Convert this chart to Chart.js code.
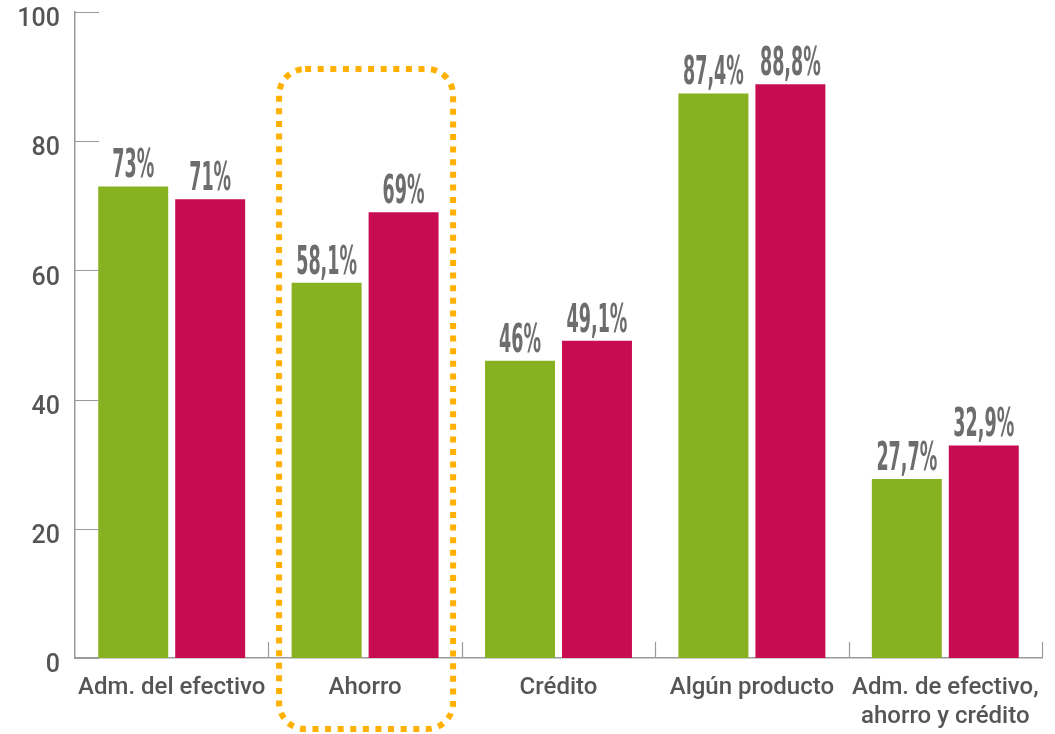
<!DOCTYPE html>
<html>
<head>
<meta charset="utf-8">
<script src="https://cdn.jsdelivr.net/npm/chart.js@4.4.1/dist/chart.umd.min.js"></script>
<style>
  html, body { margin: 0; padding: 0; background: #fff; }
  #wrap { width: 1055px; height: 734px; }
</style>
</head>
<body>
<div id="wrap"><canvas id="chart"></canvas></div>
<script>
const categories = [
    'Adm. del efectivo',
    'Ahorro',
    'Crédito',
    'Algún producto',
    ['Adm. de efectivo,', 'ahorro y crédito']
];
const greenValues = [73, 58.1, 46, 87.4, 27.7];
const redValues = [71, 69, 49.1, 88.8, 32.9];
const yTicks = [0, 20, 40, 60, 80, 100];
const highlightIndex = 1;

const GREEN = '#87b120';
const RED = '#c80c52';
const AXIS = '#9a9a9a';
const TEXT = '#555555';

const fmt = v => String(v).replace('.', ',') + '%';

// ticks on both axes point into the plot area
const innerTicks = {
    id: 'innerTicks',
    afterDraw(chart) {
        const { ctx, chartArea, scales } = chart;
        ctx.save();
        ctx.strokeStyle = AXIS;
        ctx.lineWidth = 1.2;
        ctx.beginPath();
        yTicks.forEach(t => {
            const py = Math.round(scales.y.getPixelForValue(t)) + 0.5;
            ctx.moveTo(chartArea.left, py);
            ctx.lineTo(chartArea.left + 24, py);
        });
        const step = (chartArea.right - chartArea.left) / categories.length;
        for (let i = 1; i <= categories.length; i++) {
            const px = Math.round(chartArea.left + i * step) + 0.5;
            ctx.moveTo(px, chartArea.bottom);
            ctx.lineTo(px, chartArea.bottom - 16);
        }
        ctx.stroke();
        ctx.restore();
    }
};

const valueLabels = {
    id: 'valueLabels',
    afterDatasetsDraw(chart) {
        const { ctx } = chart;
        ctx.save();
        ctx.fillStyle = '#6d6d6d';
        ctx.font = 'bold 39px "DejaVu Sans Condensed", "DejaVu Sans", sans-serif';
        ctx.textAlign = 'center';
        ctx.textBaseline = 'alphabetic';
        chart.data.datasets.forEach((ds, di) => {
            chart.getDatasetMeta(di).data.forEach((bar, i) => {
                ctx.save();
                ctx.translate(bar.x, bar.y - 9);
                ctx.scale(0.5, 1);
                ctx.fillText(fmt(ds.data[i]), 0, 0);
                ctx.restore();
            });
        });
        ctx.restore();
    }
};

const highlightBox = {
    id: 'highlightBox',
    afterDraw(chart) {
        const { ctx, chartArea, scales } = chart;
        const cx = scales.x.getPixelForValue(highlightIndex);
        const left = cx - 86;
        const right = cx + 88;
        const top = chartArea.top + 57;
        const bottom = chartArea.bottom + 71;
        ctx.save();
        ctx.strokeStyle = '#ffb000';
        ctx.lineWidth = 6;
        ctx.setLineDash([6, 6.6]);
        ctx.beginPath();
        ctx.roundRect(left, top, right - left, bottom - top, 26);
        ctx.stroke();
        ctx.restore();
    }
};

new Chart(document.getElementById('chart'), {
    type: 'bar',
    data: {
        labels: categories,
        datasets: [{
            label: 'A',
            data: greenValues,
            backgroundColor: GREEN,
            categoryPercentage: 0.796,
            barPercentage: 0.909
        }, {
            label: 'B',
            data: redValues,
            backgroundColor: RED,
            categoryPercentage: 0.796,
            barPercentage: 0.909
        }]
    },
    options: {
        responsive: true,
        maintainAspectRatio: false,
        animation: false,
        layout: { autoPadding: false, padding: { top: 12, right: 13, left: 0, bottom: 0 } },
        plugins: {
            legend: { display: false },
            tooltip: { enabled: false }
        },
        scales: {
            x: {
                grid: { display: false, drawTicks: false },
                border: { color: AXIS, width: 1.5 },
                ticks: {
                    color: TEXT,
                    padding: 16,
                    maxRotation: 0,
                    autoSkip: false,
                    font: { family: 'Roboto', size: 24, weight: '500', lineHeight: 1.2 }
                },
                afterFit(scale) {
                    scale.height = 76;
                    scale.paddingLeft = 0;
                    scale.paddingRight = 0;
                }
            },
            y: {
                min: 0,
                max: 100,
                afterBuildTicks(scale) { scale.ticks = yTicks.map(v => ({ value: v })); },
                grid: { display: false, drawTicks: false },
                border: { color: AXIS, width: 1.5 },
                ticks: {
                    color: TEXT,
                    padding: 15,
                    labelOffset: 8,
                    font: { family: 'Roboto', size: 25, weight: '500' }
                },
                afterFit(scale) {
                    scale.width = 75;
                    scale.paddingTop = 0;
                    scale.paddingBottom = 0;
                }
            }
        }
    },
    plugins: [innerTicks, valueLabels, highlightBox]
});
</script>
</body>
</html>
